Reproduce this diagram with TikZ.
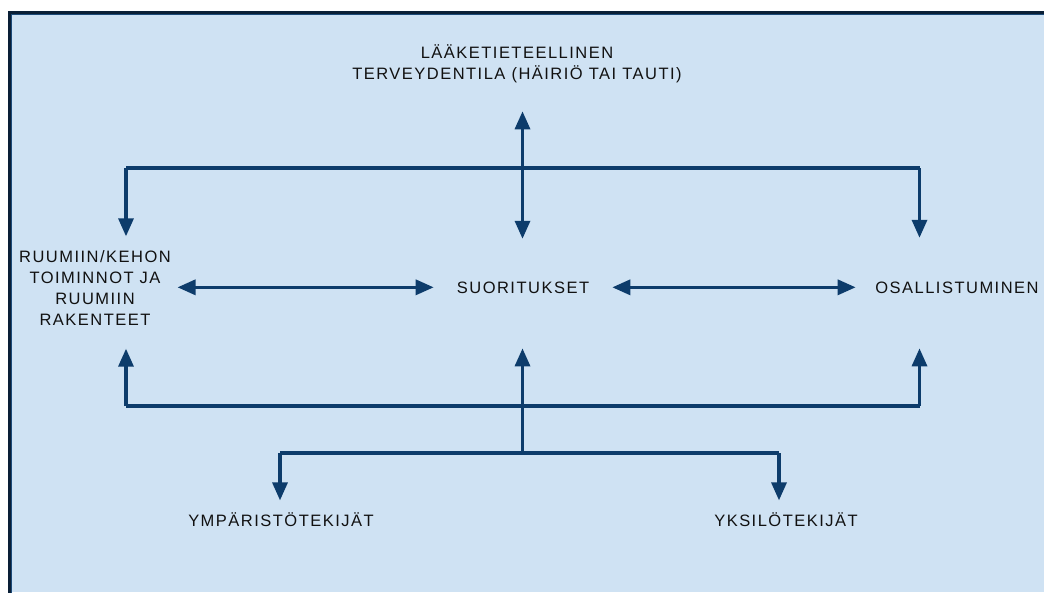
\documentclass[tikz,border=0pt]{standalone}
\usepackage{fontspec}
\setmainfont{Liberation Sans}
\usetikzlibrary{arrows.meta,calc}

\definecolor{panel}{HTML}{CFE2F3}
\definecolor{wire}{HTML}{0D3C6B}
\definecolor{rimdark}{HTML}{0A1F36}
\definecolor{rimblue}{HTML}{1C4A78}
\definecolor{ink}{HTML}{111111}

\begin{document}
\begin{tikzpicture}[x=1pt,y=-1pt,
  lbl/.style={inner sep=0pt, align=center, text=ink,
    font=\fontsize{16.5}{21}\selectfont\addfontfeature{LetterSpace=9}},
  link/.style={draw=wire, line width=3.3pt},
  head/.style={-{Triangle[length=18pt,width=15pt]}},
  twohead/.style={{Triangle[length=18pt,width=15pt]}-{Triangle[length=18pt,width=15pt]}}
]
\useasboundingbox (0,0) rectangle (1044,592);

% page and framed panel
\fill[white] (0,0) rectangle (1044,592);
\fill[panel] (8,11) rectangle (1044,592);
\draw[rimdark, line width=3pt] (9.5,593) -- (9.5,12.5) -- (1045,12.5);
\draw[rimblue, line width=1.2pt] (11.6,593) -- (11.6,14.6) -- (1045,14.6);

% labels
\node[lbl] (health) at (517,64) {LÄÄKETIETEELLINEN\\TERVEYDENTILA (HÄIRIÖ TAI TAUTI)};
\node[lbl] (body) at (95,288) {RUUMIIN/KEHON\\TOIMINNOT JA\\RUUMIIN\\RAKENTEET};
\node[lbl, anchor=base] (act) at (523,293) {SUORITUKSET};
\node[lbl, anchor=base] (part) at (957,293) {OSALLISTUMINEN};
\node[lbl, anchor=base] (env) at (281,526) {YMPÄRISTÖTEKIJÄT};
\node[lbl, anchor=base] (pers) at (786,526) {YKSILÖTEKIJÄT};

% rail and fork points
\coordinate (cx) at (522.5,0);
\coordinate (tL) at (126,168);
\coordinate (tR) at (919.5,168);
\coordinate (bL) at (126,406);
\coordinate (bR) at (919.5,406);
\coordinate (fork) at (522.5,453);
\coordinate (fL) at (280,453);
\coordinate (fR) at (779,453);

% upper rail
\draw[link] (tL) -- (tR);
\draw[link, head, shorten >=14pt] (tL) -- (tL |- body.north);
\draw[link, head, shorten >=43.5pt] (tR) -- (tR |- part.north);
\draw[link, twohead, shorten <=28pt, shorten >=42.5pt] (health.south -| cx) -- (act.north -| cx);

% middle pairs
\draw[link, twohead, shorten <=6.5pt, shorten >=23pt] (body.east |- act.west) -- (act.west);
\draw[link, twohead, shorten <=23pt, shorten >=19.5pt] (act.east) -- (part.west);

% lower rail
\draw[link] (bL) -- (bR);
\draw[link, head, shorten >=23pt] (bL) -- (bL |- body.south);
\draw[link, head, shorten >=55pt] (bR) -- (bR |- part.south);
\draw[link, head, shorten >=55pt] (fork) -- (act.south -| cx);
\draw[link] (fL) -- (fR);
\draw[link, head, shorten >=11.6pt] (fL) -- (fL |- env.north);
\draw[link, head, shorten >=11.6pt] (fR) -- (fR |- pers.north);
\end{tikzpicture}
\end{document}
